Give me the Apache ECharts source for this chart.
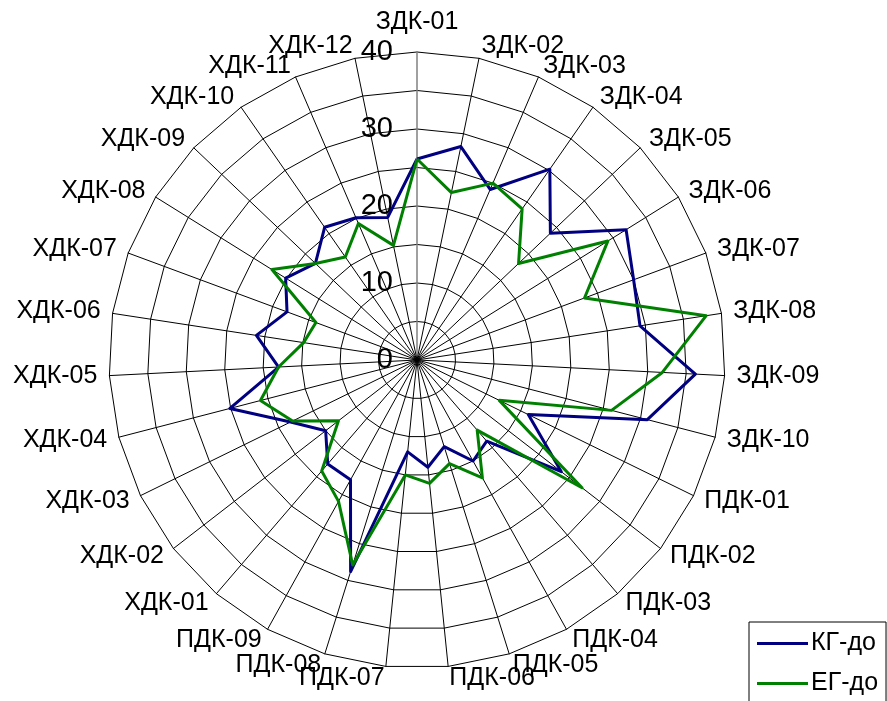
<!DOCTYPE html>
<html>
<head>
<meta charset="utf-8">
<title>КГ-до / ЕГ-до</title>
<script src="https://cdn.jsdelivr.net/npm/echarts@6/dist/echarts.min.js"></script>
<style>
  html, body { margin: 0; padding: 0; background: #fff; }
  #chart { width: 887px; height: 701px; }
</style>
</head>
<body>
<div id="chart"></div>
<script>
// categories in clockwise order, starting at the top
var categories = [
  'ЗДК-01', 'ЗДК-02', 'ЗДК-03', 'ЗДК-04', 'ЗДК-05', 'ЗДК-06', 'ЗДК-07', 'ЗДК-08', 'ЗДК-09', 'ЗДК-10',
  'ПДК-01', 'ПДК-02', 'ПДК-03', 'ПДК-04', 'ПДК-05', 'ПДК-06', 'ПДК-07', 'ПДК-08', 'ПДК-09',
  'ХДК-01', 'ХДК-02', 'ХДК-03', 'ХДК-04', 'ХДК-05', 'ХДК-06', 'ХДК-07', 'ХДК-08', 'ХДК-09', 'ХДК-10', 'ХДК-11', 'ХДК-12'
];
var kgDo = [
  26.1, 28.3, 24.1, 30.2, 23.9, 32.0, 30.0, 29.3, 36.2, 30.9,
  16.1, 23.7, 13.9, 15.0, 11.8, 14.0, 12.0, 28.8, 17.8,
  17.8, 15.0, 18.3, 25.1, 18.0, 21.1, 18.0, 20.1, 18.2, 21.0, 20.1, 18.9
];
var egDo = [
  26.1, 22.2, 25.0, 23.9, 18.2, 29.2, 23.2, 38.0, 31.9, 26.1,
  11.9, 27.1, 12.0, 17.5, 14.1, 16.1, 15.0, 27.9, 21.0,
  19.0, 12.9, 18.0, 21.0, 18.0, 14.9, 14.0, 22.2, 18.2, 16.3, 19.3, 15.2
];
var ringLabels = [0, 10, 20, 30, 40];

// echarts puts radar indicators anticlockwise: keep the first one on top, flip the rest
function clockwise(arr) {
  return [arr[0]].concat(arr.slice(1).reverse());
}

var font = 'Arial, "Liberation Sans", sans-serif';

var indicators = clockwise(categories).map(function (name, i) {
  var ind = { name: name, min: 0, max: 40 };
  if (i === 0) {
    // value labels only on the top spoke
    ind.axisLabel = {
      show: true,
      showMinLabel: true,
      showMaxLabel: true,
      color: '#000',
      fontSize: 29,
      fontFamily: font,
      margin: 24,
      formatter: function (v) { return ringLabels.indexOf(v) >= 0 ? String(v) : ''; }
    };
    ind.axisLine = { lineStyle: { color: '#808080', width: 1.5 } };
    ind.nameGap = 17;
  }
  return ind;
});

var chart = echarts.init(document.getElementById('chart'));
chart.setOption({
  animation: false,
  backgroundColor: '#fff',
  legend: {
    left: 749,
    top: 622,
    height: 130,
    orient: 'vertical',
    icon: 'rect',
    itemWidth: 51,
    itemHeight: 3,
    itemGap: 15,
    padding: [9, 8, 40, 8],
    borderColor: '#000',
    borderWidth: 1,
    textStyle: { color: '#000', fontSize: 25, fontFamily: font, padding: [0, 0, 0, -2] },
    data: ['КГ-до', 'ЕГ-до']
  },
  radar: {
    center: [417, 360],
    radius: 308,
    startAngle: 90,
    shape: 'polygon',
    splitNumber: 8,
    nameGap: 12,
    axisName: { color: '#000', fontSize: 25, fontFamily: font },
    axisLine: { lineStyle: { color: '#000', width: 1 } },
    splitLine: { lineStyle: { color: '#000', width: 1 } },
    splitArea: { show: false },
    axisLabel: { show: false },
    axisTick: { show: false },
    indicator: indicators
  },
  series: [{
    type: 'radar',
    symbol: 'none',
    data: [
      {
        name: 'КГ-до',
        value: clockwise(kgDo),
        lineStyle: { color: '#000080', width: 3 },
        itemStyle: { color: '#000080' }
      },
      {
        name: 'ЕГ-до',
        value: clockwise(egDo),
        lineStyle: { color: '#008000', width: 3 },
        itemStyle: { color: '#008000' }
      }
    ]
  }]
});
</script>
</body>
</html>
